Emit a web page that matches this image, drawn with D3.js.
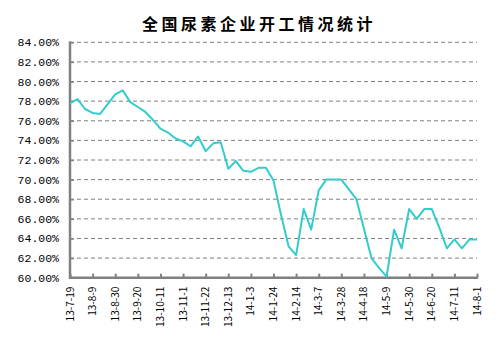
<!DOCTYPE html>
<html lang="zh">
<head>
<meta charset="UTF-8">
<script src="https://d3js.org/d3.v7.min.js"></script>
<style>
  body { margin: 0; background: #fff; }
  .title { font-family: "Noto Sans CJK SC"; font-weight: bold; font-size: 16px; letter-spacing: 3.5px; }
  .ylab { font-family: "Liberation Mono", monospace; font-size: 11.5px; }
  .xlab { font-family: "Noto Sans CJK SC"; font-size: 10px; }
</style>
</head>
<body>
<svg class="chart"></svg>
<script>

const dates = ["13-7-19","13-7-26","13-8-2","13-8-9","13-8-16","13-8-23","13-8-30","13-9-6","13-9-13","13-9-20",
  "13-9-27","13-10-4","13-10-11","13-10-18","13-10-25","13-11-1","13-11-8","13-11-15","13-11-22","13-11-29",
  "13-12-6","13-12-13","13-12-20","13-12-27","14-1-3","14-1-10","14-1-17","14-1-24","14-1-31","14-2-7",
  "14-2-14","14-2-21","14-2-28","14-3-7","14-3-14","14-3-21","14-3-28","14-4-4","14-4-11","14-4-18",
  "14-4-25","14-5-2","14-5-9","14-5-16","14-5-23","14-5-30","14-6-6","14-6-13","14-6-20","14-6-27",
  "14-7-4","14-7-11","14-7-18","14-7-25","14-8-1"]

const rates = [77.8,78.2,77.2,76.8,76.7,77.7,78.7,79.1,77.9,77.4,
  76.9,76.1,75.2,74.8,74.2,73.9,73.4,74.4,72.9,73.7,
  73.8,71.1,71.9,70.9,70.8,71.2,71.2,69.9,66.4,63.2,
  62.3,67.0,64.9,68.9,70.0,70.0,70.0,69.0,68.0,65.0,
  62.0,61.0,60.1,64.9,63.0,67.0,66.0,67.0,67.0,65.1,
  63.0,63.9,63.0,63.9,63.9]

const tickLabels = ["13-7-19","13-8-9","13-8-30","13-9-20","13-10-11","13-11-1","13-11-22","13-12-13","14-1-3",
  "14-1-24","14-2-14","14-3-7","14-3-28","14-4-18","14-5-9","14-5-30","14-6-20","14-7-11","14-8-1"]

const yTicks = [60,62,64,66,68,70,72,74,76,78,80,82,84]

const W = 503, H = 351
const plot = {left: 70, right: 477, top: 42.3, bottom: 277.7}

let svg = d3.select(".chart")
    .attr("width", W)
    .attr("height", H)

let x = d3.scalePoint()
    .domain(dates)
    .range([plot.left, plot.right])

let y = d3.scaleLinear()
    .domain([60, 84])
    .range([plot.bottom, plot.top])

// title
svg.append("text")
    .attr("class", "title")
    .attr("x", 259)
    .attr("y", 30)
    .attr("text-anchor", "middle")
    .text("全国尿素企业开工情况统计")

// gridlines
svg.append("g")
  .selectAll("line")
  .data(yTicks.filter(d => d > 60))
  .join("line")
    .attr("x1", plot.left)
    .attr("x2", plot.right)
    .attr("y1", d => y(d))
    .attr("y2", d => y(d))
    .attr("stroke", "#808080")
    .attr("stroke-width", 1)
    .attr("stroke-dasharray", "4,3")

// y axis
let yAxis = d3.axisRight(y)
    .tickValues(yTicks)
    .tickSize(4)
    .tickFormat("")

svg.append("g")
    .attr("transform", `translate(${plot.left},0)`)
    .call(yAxis)
    .call(g => g.select(".domain").remove())
    .call(g => g.selectAll("line").attr("stroke", "#808080").attr("stroke-width", 1.5))

svg.append("g")
  .selectAll("text")
  .data(yTicks)
  .join("text")
    .attr("class", "ylab")
    .attr("x", 59)
    .attr("y", d => y(d) + 4)
    .attr("text-anchor", "end")
    .text(d => d3.format(".2f")(d) + "%")

// x axis
let xAxis = d3.axisTop(x)
    .tickValues(tickLabels)
    .tickSize(4)
    .tickFormat("")

svg.append("g")
    .attr("transform", `translate(0,${plot.bottom})`)
    .call(xAxis)
    .call(g => g.select(".domain").remove())
    .call(g => g.selectAll("line").attr("stroke", "#808080").attr("stroke-width", 2))

svg.append("g")
  .selectAll("text")
  .data(tickLabels)
  .join("text")
    .attr("class", "xlab")
    .attr("transform", d => `translate(${x(d) + 3.5},${plot.bottom + 9}) rotate(-90)`)
    .attr("text-anchor", "end")
    .text(d => d)

// axis lines
svg.append("line")
    .attr("x1", plot.left).attr("x2", plot.left)
    .attr("y1", plot.top - 1).attr("y2", plot.bottom + 1)
    .attr("stroke", "#808080").attr("stroke-width", 2.5)

svg.append("line")
    .attr("x1", plot.left - 1).attr("x2", plot.right + 1)
    .attr("y1", plot.bottom).attr("y2", plot.bottom)
    .attr("stroke", "#808080").attr("stroke-width", 2.5)

// series
let line = d3.line()
    .x((d, i) => x(dates[i]))
    .y(d => y(d))

svg.append("path")
    .datum(rates)
    .attr("fill", "none")
    .attr("stroke", "#33CCCC")
    .attr("stroke-width", 2)
    .attr("stroke-linejoin", "round")
    .attr("d", line)

</script>
</body>
</html>
